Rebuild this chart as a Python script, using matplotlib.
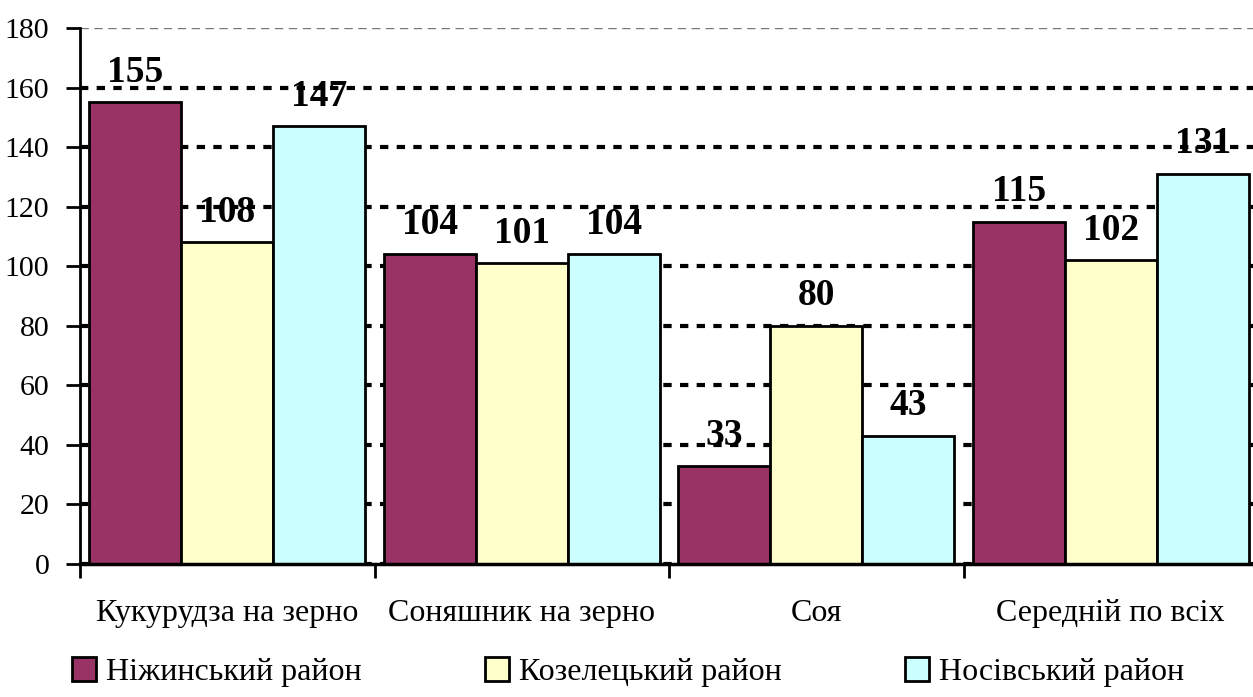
import numpy as np
import matplotlib.pyplot as plt
from matplotlib.ticker import FixedLocator

# Yield data by crop and district
crops = ["Кукурудза на зерно", "Соняшник на зерно", "Соя", "Середній по всіх"]
districts = ["Ніжинський район", "Козелецький район", "Носівський район"]
nizhyn = [155, 104, 33, 115]
kozelets = [108, 101, 80, 102]
nosivka = [147, 104, 43, 131]
colors = ["#993366", "#FFFFCC", "#CCFFFF"]

plt.rcParams["font.family"] = ["Liberation Serif", "DejaVu Serif"]

fig = plt.figure(figsize=(12.53, 6.97), dpi=100)
ax = fig.add_axes([80 / 1253, 1 - 564 / 697, 1178 / 1253, 536 / 697])

x = np.arange(len(crops)) + 0.5
w = 0.3125
series = [nizhyn, kozelets, nosivka]
for i, (vals, col, name) in enumerate(zip(series, colors, districts)):
    bars = ax.bar(x + (i - 1) * w, vals, width=w, color=col, edgecolor="black",
                  linewidth=2, label=name, zorder=2)
    for b, v in zip(bars, vals):
        ax.annotate(str(v), (b.get_x() + b.get_width() / 2, v),
                    xytext=(0, 9), textcoords="offset points",
                    ha="center", va="bottom", fontsize=27, fontweight="bold",
                    zorder=4)

ax.set_xlim(0, 4)
ax.set_ylim(0, 180)
ax.set_yticks(range(0, 181, 20))
ax.tick_params(axis="y", labelsize=21.5, length=10, width=2, direction="out", pad=12)

# category boundaries get ticks, labels sit in the middle
ax.xaxis.set_major_locator(FixedLocator([0, 1, 2, 3, 4]))
ax.xaxis.set_minor_locator(FixedLocator(x))
ax.set_xticklabels([])
ax.set_xticklabels(crops, minor=True)
ax.tick_params(axis="x", which="major", length=10, width=2)
ax.tick_params(axis="x", which="minor", length=0, labelsize=23, pad=25)

ax.yaxis.grid(True, linestyle=(0, (2, 2)), color="black", linewidth=3, zorder=0)
ax.set_axisbelow(True)
top = ax.get_ygridlines()[-1]
top.set_color("#777777")
top.set_linewidth(1)
top.set_linestyle((0, (6, 4)))

for s in ["top", "right"]:
    ax.spines[s].set_visible(False)
ax.spines["left"].set_linewidth(2)
ax.spines["bottom"].set_linewidth(2.5)

fig.legend(loc="lower left", bbox_to_anchor=(72 / 1253, 0.014, 1112 / 1253, 0.075),
           mode="expand", ncol=3, frameon=False, fontsize=23, handlelength=0.75,
           handleheight=0.75, handletextpad=0.3, borderaxespad=0, borderpad=0)

fig.savefig("out.png", dpi=100)
